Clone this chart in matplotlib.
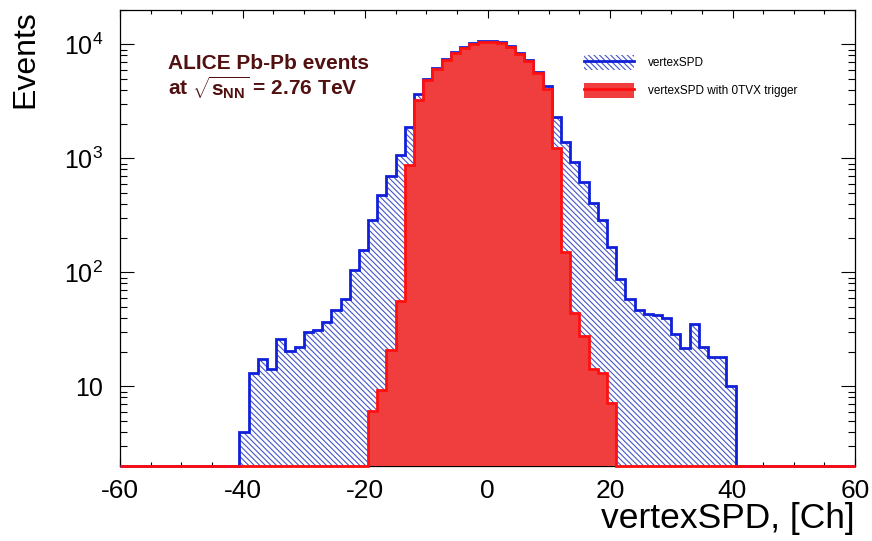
import numpy as np
import matplotlib
matplotlib.use("Agg")
import matplotlib.pyplot as plt
from matplotlib.patches import Patch
from matplotlib.lines import Line2D
from matplotlib.legend_handler import HandlerTuple
from matplotlib.ticker import MultipleLocator, LogLocator, NullFormatter

plt.rcParams['font.family'] = ['Liberation Sans', 'DejaVu Sans']
plt.rcParams['mathtext.fontset'] = 'custom'
plt.rcParams['mathtext.rm'] = 'Liberation Sans'
plt.rcParams['mathtext.it'] = 'Liberation Sans:italic'
plt.rcParams['mathtext.bf'] = 'Liberation Sans:bold'
plt.rcParams['axes.unicode_minus'] = False
plt.rcParams['hatch.linewidth'] = 0.8

# ---- data: 80 bins of 1.5 Ch between -60 and 60 ----
edges = np.arange(-60, 60.01, 1.5)

# all vertexSPD events, bins from -40.5 to 40.5
spd_core = [4.0, 13.2, 17.3, 14.1, 25.9, 20.6, 22.0, 30.2, 31.0, 36.5,
            47.0, 58.0, 105, 157, 288, 477, 699, 1068, 1867, 3680,
            5010, 6220, 7420, 8590, 9500, 10300, 10730, 10660, 10380, 9640,
            8310, 7260, 5700, 4300, 2310, 1397, 933, 624, 403, 288,
            168, 87.0, 58.0, 47.0, 43.0, 42.0, 39.5, 29.0, 21.6, 35.0,
            22.3, 18.2, 18.0, 10.1]
vertex_spd = [0] * 13 + spd_core + [0] * 13

# with 0TVX trigger, bins from -19.5 to 21
tvx_core = [6.1, 9.2, 21.0, 56.0, 873, 3245, 4900, 6100, 7300, 8450,
            9350, 10150, 10550, 10500, 10200, 9480, 8180, 7150, 5600, 4030,
            1222, 152, 43.7, 27.7, 14.1, 13.2, 7.2]
vertex_tvx = [0] * 27 + tvx_core + [0] * 26

y_lo, y_hi = 2, 2.0e4

blue = '#1020d8'
hatch_blue = '#4656c8'
red_fill = '#f03e3e'
red_line = '#ff1010'
hatch_pat = '\\\\\\\\\\\\'

fig = plt.figure(figsize=(8.72, 5.41), dpi=100)
ax = fig.add_axes([120 / 872, 1 - 466 / 541, 735 / 872, 456 / 541])
ax.set_yscale('log')

spd = np.asarray(vertex_spd, float)
tvx = np.asarray(vertex_tvx, float)
spd_draw = np.where(spd > 0, spd, y_lo)
tvx_draw = np.where(tvx > 0, tvx, y_lo)

# blue hatched histogram
ax.stairs(spd_draw, edges, baseline=y_lo, fill=True, facecolor='white',
          edgecolor=hatch_blue, hatch=hatch_pat, linewidth=0, zorder=2)
ax.stairs(spd_draw, edges, baseline=y_lo, color=blue, linewidth=2,
          zorder=3, clip_on=False)

# red filled histogram on top
ax.stairs(tvx_draw, edges, baseline=y_lo, fill=True, facecolor=red_fill,
          linewidth=0, zorder=4)
ax.stairs(tvx_draw, edges, baseline=y_lo, color=red_line, linewidth=2,
          zorder=5, clip_on=False)

ax.set_xlim(-60, 60)
ax.set_ylim(y_lo, y_hi)

ax.set_xticks(np.arange(-60, 61, 20))
ax.xaxis.set_minor_locator(MultipleLocator(5))
ax.set_yticks([10, 100, 1000, 10000],
              labels=['10', r'$10^{2}$', r'$10^{3}$', r'$10^{4}$'])
ax.yaxis.set_minor_locator(LogLocator(base=10, subs=np.arange(2, 10)))
ax.yaxis.set_minor_formatter(NullFormatter())

ax.tick_params(which='both', direction='in', top=True, right=True, width=0.8)
ax.tick_params(axis='x', which='major', length=6, pad=9, labelsize=19)
ax.tick_params(axis='x', which='minor', length=3)
ax.tick_params(axis='y', which='major', length=10, pad=12, labelsize=18)
ax.tick_params(axis='y', which='minor', length=5)
for s in ax.spines.values():
    s.set_linewidth(0.9)

ax.set_xlabel('vertexSPD, [Ch]', fontsize=25.5, loc='right')
ax.xaxis.set_label_coords(1.0, -0.080)
ax.set_ylabel('Events', fontsize=23, loc='top')
ax.yaxis.set_label_coords(-0.108, 1.0)

# experiment label
txt_color = '#521010'
fig.text(168 / 872, 1 - 69 / 541, 'ALICE Pb-Pb events', fontsize=15,
         fontweight='bold', color=txt_color, va='baseline')
fig.text(168 / 872, 1 - 95 / 541, r'at $\mathbf{\sqrt{s_{NN}}}$ = 2.76 TeV',
         fontsize=15, fontweight='bold', color=txt_color, va='baseline')

# legend
h_spd = (Patch(facecolor='white', edgecolor=hatch_blue, hatch=hatch_pat, linewidth=0),
         Line2D([], [], color=blue, linewidth=2))
h_tvx = (Patch(facecolor=red_fill, linewidth=0),
         Line2D([], [], color=red_line, linewidth=2))
ax.legend([h_spd, h_tvx], ['vertexSPD', 'vertexSPD with 0TVX trigger'],
          handler_map={tuple: HandlerTuple(ndivide=1)},
          loc='upper left', bbox_to_anchor=(584 / 872, 1 - 55 / 541),
          bbox_transform=fig.transFigure, frameon=False, fontsize=8.5,
          handlelength=4.2, handleheight=1.58, handletextpad=1.2,
          labelspacing=1.1, borderpad=0, borderaxespad=0)

fig.savefig('out.png', dpi=100)
